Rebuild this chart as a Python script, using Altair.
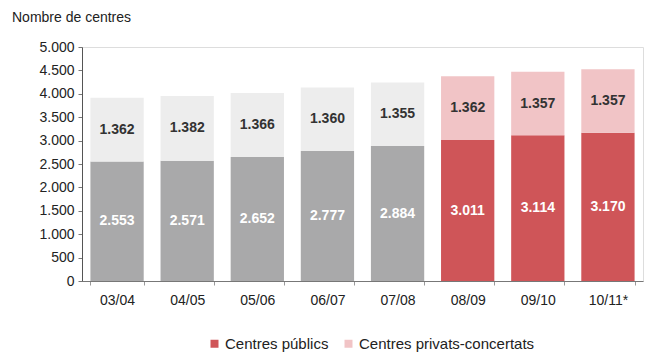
import altair as alt
import pandas as pd

years = ["03/04", "04/05", "05/06", "06/07", "07/08", "08/09", "09/10", "10/11*"]
publics = [2553, 2571, 2652, 2777, 2884, 3011, 3114, 3170]
privats = [1362, 1382, 1366, 1360, 1355, 1362, 1357, 1357]
highlight = [False, False, False, False, False, True, True, True]
y_ticks = [0, 500, 1000, 1500, 2000, 2500, 3000, 3500, 4000, 4500, 5000]

PUB = "Centres públics"
PRIV = "Centres privats-concertats"

rows = []
for y, pu, pr, h in zip(years, publics, privats, highlight):
    rows.append({"year": y, "serie": PUB if h else "pub_hist", "value": pu,
                 "label": f"{pu:,}".replace(",", "."), "ord": 0})
    rows.append({"year": y, "serie": PRIV if h else "priv_hist", "value": pr,
                 "label": f"{pr:,}".replace(",", "."), "ord": 1})
df = pd.DataFrame(rows)

font = "Liberation Sans"

base = alt.Chart(df).transform_stack(
    stack="value", groupby=["year"], as_=["y0", "y1"],
    sort=[alt.SortField("ord", order="ascending")]
).transform_calculate(mid="(datum.y0 + datum.y1) / 2")

xenc = alt.X("year:N", sort=years, title=None,
             scale=alt.Scale(paddingInner=0.24, paddingOuter=0.12),
             axis=alt.Axis(labelAngle=0, tickBand="extent", labelFontSize=14,
                           labelColor="#222", labelFont=font, domainColor="#777",
                           tickColor="#999", tickSize=4, labelPadding=8))

yscale = alt.Scale(domain=[0, 5000], nice=False)
yaxis = alt.Axis(values=y_ticks,
                 labelExpr="replace(format(datum.value, ','), ',', '.')",
                 labelOverlap=False, tickCount=11,
                 labelFontSize=14, labelColor="#222", labelFont=font,
                 domainColor="#555", tickColor="#777", tickSize=4,
                 labelPadding=4, grid=False)

bars = base.mark_bar().encode(
    x=xenc,
    y=alt.Y("y0:Q", title=None, scale=yscale, axis=yaxis),
    y2="y1:Q",
    color=alt.Color("serie:N",
                    scale=alt.Scale(domain=[PUB, PRIV, "pub_hist", "priv_hist"],
                                    range=["#cf5558", "#f1c4c6", "#a9a9aa", "#ededed"]),
                    legend=alt.Legend(values=[PUB, PRIV], title=None, orient="none",
                                      direction="horizontal", legendX=125, legendY=289,
                                      symbolType="square", symbolSize=64,
                                      symbolStrokeWidth=0, labelLimit=400,
                                      labelFontSize=15, labelFont=font, labelColor="#222",
                                      columnPadding=12, labelOffset=3)),
)

texts = base.mark_text(fontSize=14, font=font, fontWeight="bold").encode(
    x=alt.X("year:N", sort=years),
    y=alt.Y("mid:Q", title=None, scale=yscale, axis=yaxis),
    text="label:N",
    color=alt.condition(alt.datum.ord == 0, alt.value("#ffffff"), alt.value("#333333")),
)

chart = alt.layer(bars, texts).properties(
    width=561, height=234,
    autosize=alt.AutoSizeParams(type="none"),
    padding={"left": 74, "top": 39, "right": 3, "bottom": 72},
    title=alt.TitleParams("Nombre de centres", anchor="start", frame="group",
                          fontSize=14, font=font, fontWeight="normal", color="#222",
                          dx=-70, offset=15),
).configure_view(stroke="#cfcfcf", strokeWidth=1).configure(background="white")

chart.save("out.html", embed_options={"renderer": "svg", "actions": False})
